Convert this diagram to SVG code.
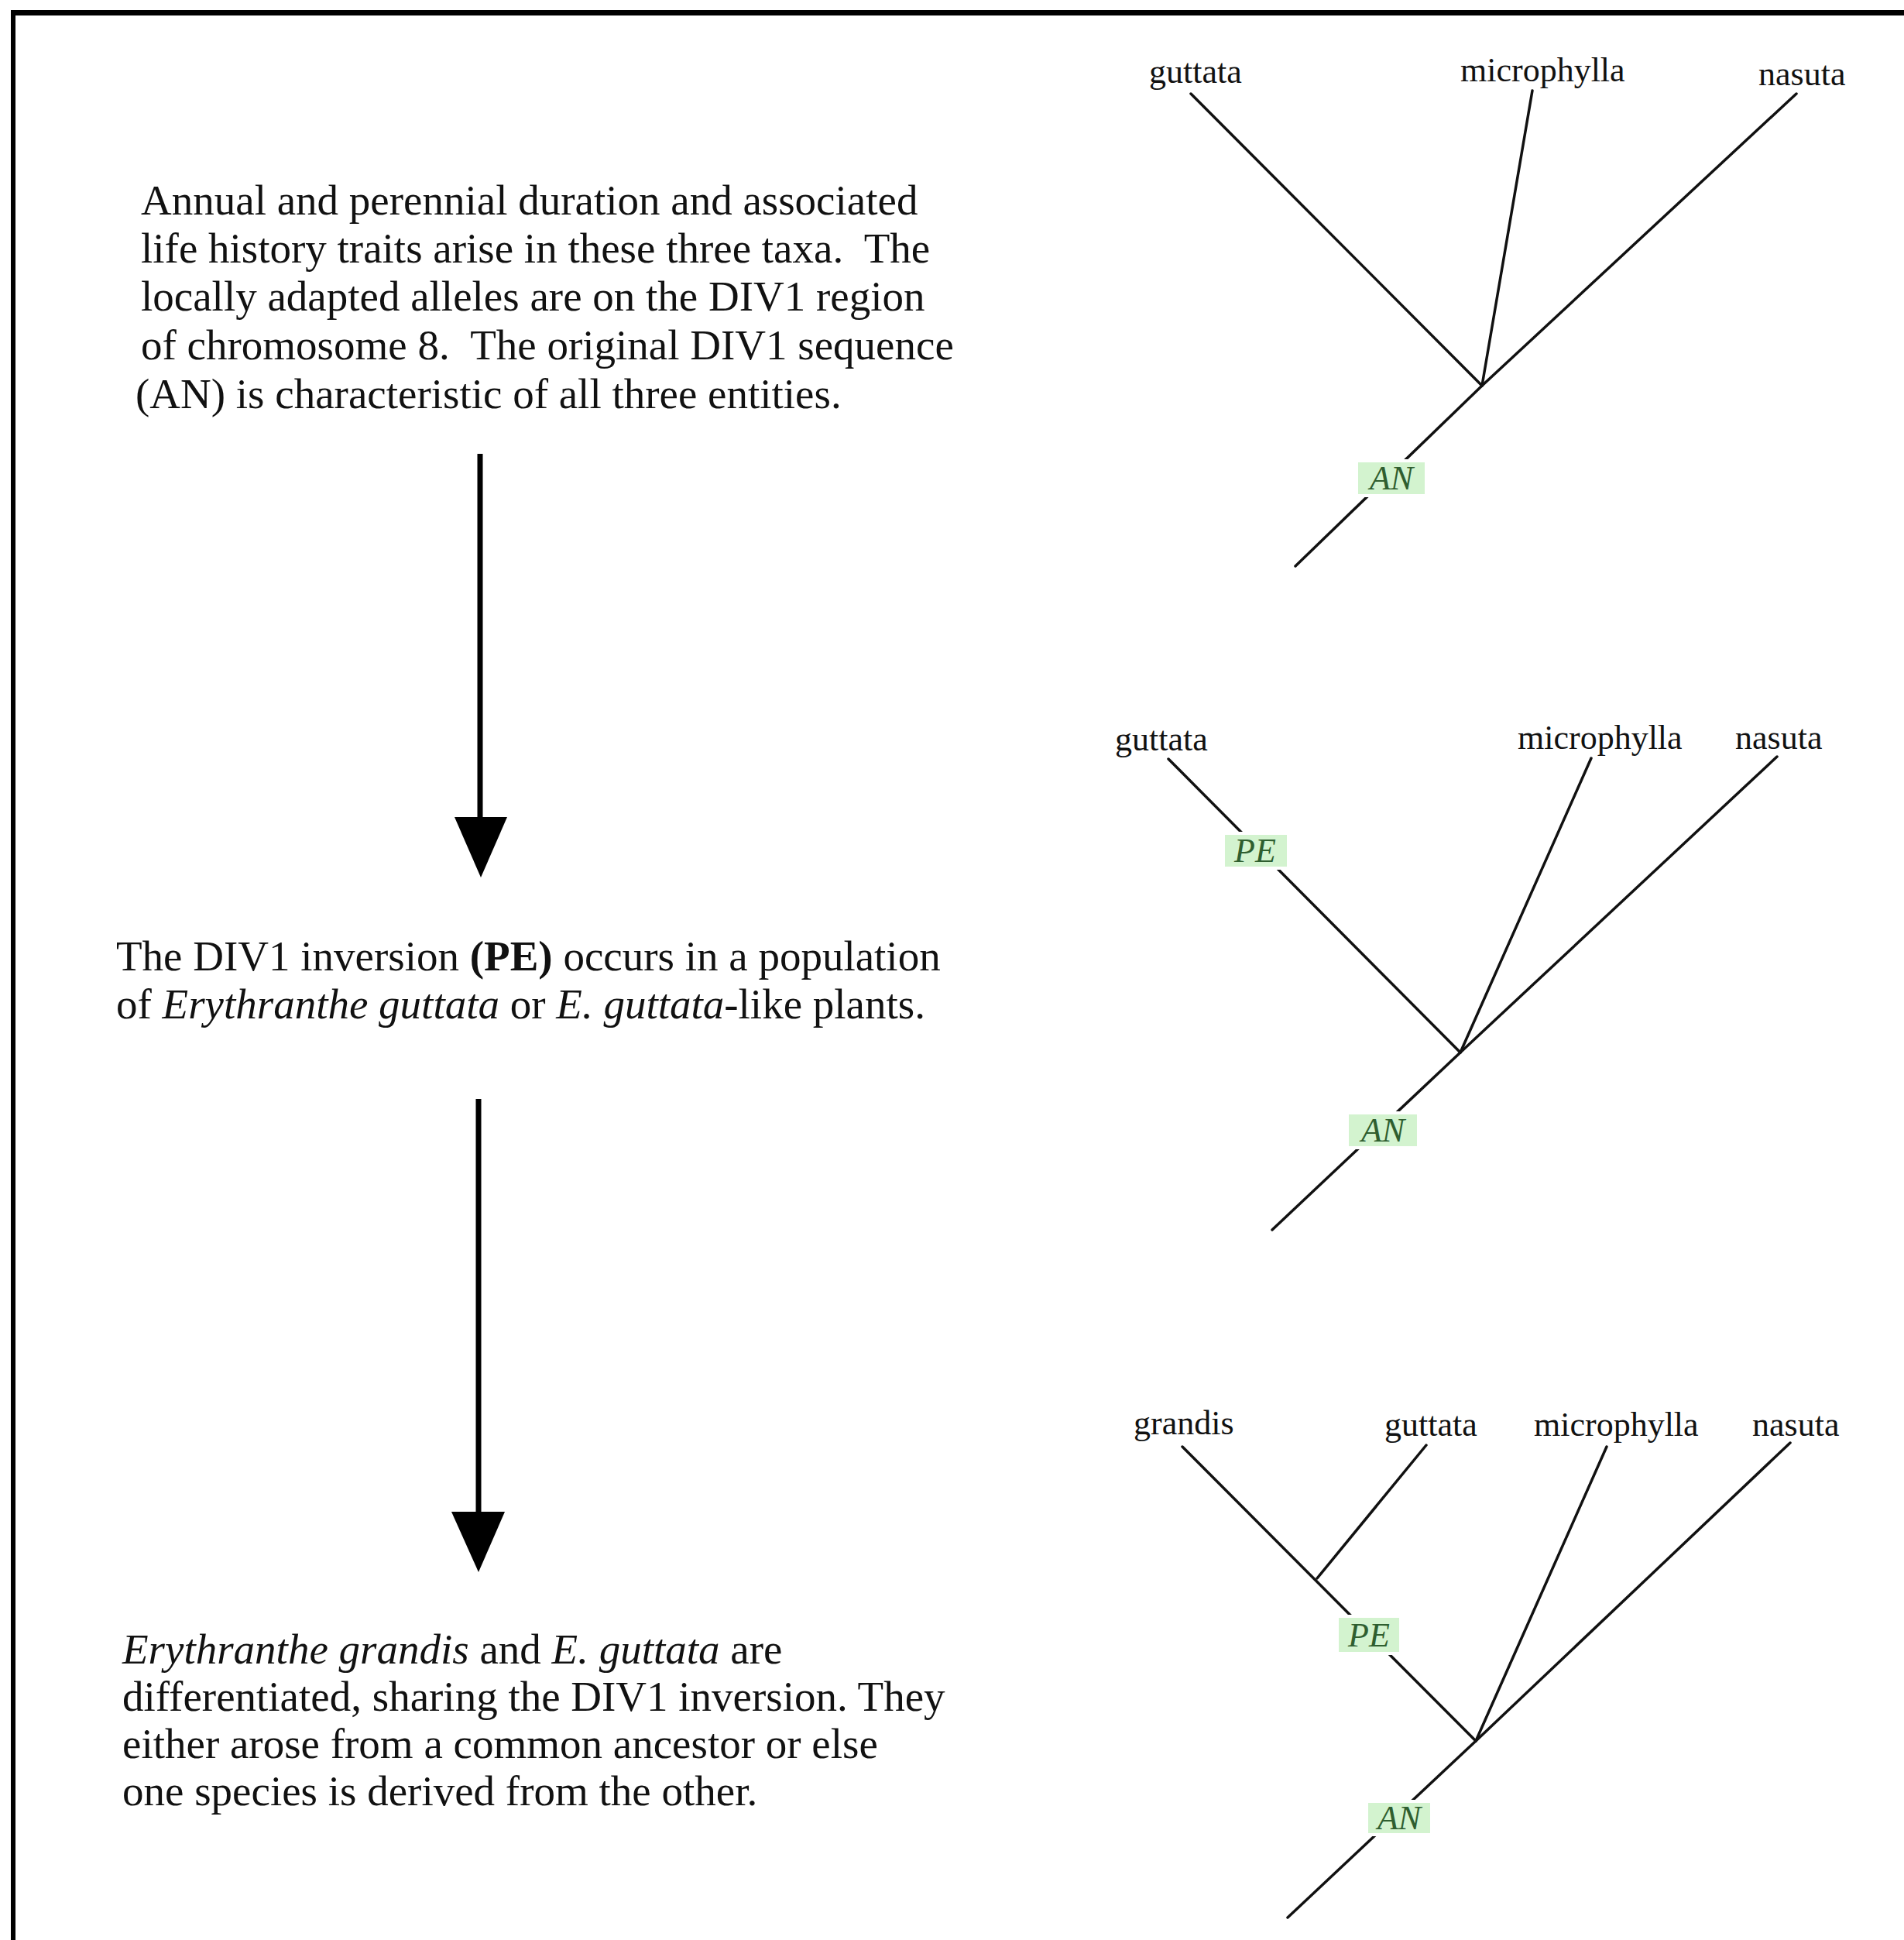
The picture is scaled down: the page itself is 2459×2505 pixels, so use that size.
<svg xmlns="http://www.w3.org/2000/svg" width="2459" height="2505" viewBox="0 0 2459 2505">
<style>
.body{font-family:"Liberation Serif","Times New Roman",serif;font-size:55px;fill:#111}
.lab{font-family:"Liberation Serif","Times New Roman",serif;font-size:44px;fill:#111}
.gl{font-family:"Liberation Serif","Times New Roman",serif;font-size:44px;font-style:italic;fill:#2f5e2f;text-anchor:middle}
.gbox{fill:#d3f3cf;stroke:#ffffff;stroke-width:4}
.br{stroke:#111;stroke-width:3.5;fill:none;stroke-linecap:round}
.arr{stroke:#000;stroke-width:7;fill:none}
.head{fill:#000}
</style>
<rect x="0" y="0" width="2459" height="2505" fill="#ffffff"/>
<g id="frame">
<line x1="14" y1="16.5" x2="2459" y2="16.5" stroke="#000" stroke-width="7"/>
<line x1="17" y1="13" x2="17" y2="2505" stroke="#000" stroke-width="6"/>
</g>
<g id="step1">
<text class="body" x="182" y="277">Annual and perennial duration and associated</text>
<text class="body" x="182" y="339">life history traits arise in these three taxa.&#160; The</text>
<text class="body" x="182" y="401">locally adapted alleles are on the DIV1 region</text>
<text class="body" x="182" y="464">of chromosome 8.&#160; The original DIV1 sequence</text>
<text class="body" x="175" y="527">(AN) is characteristic of all three entities.</text>
</g>
<g id="step2">
<text class="body" x="150" y="1253">The DIV1 inversion <tspan font-weight="bold">(PE)</tspan> occurs in a population</text>
<text class="body" x="150" y="1315">of <tspan font-style="italic">Erythranthe guttata</tspan> or <tspan font-style="italic">E. guttata</tspan>-like plants.</text>
</g>
<g id="step3">
<text class="body" x="158" y="2148"><tspan font-style="italic">Erythranthe grandis</tspan> and <tspan font-style="italic">E. guttata</tspan> are</text>
<text class="body" x="158" y="2209">differentiated, sharing the DIV1 inversion. They</text>
<text class="body" x="158" y="2270">either arose from a common ancestor or else</text>
<text class="body" x="158" y="2331">one species is derived from the other.</text>
</g>
<g id="connectors">
<line class="arr" x1="620" y1="586" x2="620" y2="1060"/>
<polygon class="head" points="587,1055 655,1055 621,1133"/>
<line class="arr" x1="618" y1="1419" x2="618" y2="1957"/>
<polygon class="head" points="583,1952 652,1952 618,2030"/>
</g>
<g id="tree1">
<line class="br" x1="1538" y1="121" x2="1914" y2="498"/>
<line class="br" x1="1979" y1="117" x2="1914" y2="498"/>
<line class="br" x1="2320" y1="121" x2="1914" y2="498"/>
<line class="br" x1="1914" y1="498" x2="1673" y2="731"/>
<text class="lab" x="1484" y="107">guttata</text>
<text class="lab" x="1886" y="105">microphylla</text>
<text class="lab" x="2271" y="110">nasuta</text>
<rect class="gbox" x="1752" y="595" width="90" height="45"/>
<text class="gl" x="1797" y="632">AN</text>
</g>
<g id="tree2">
<line class="br" x1="1509" y1="980" x2="1886" y2="1359"/>
<line class="br" x1="2055" y1="979" x2="1886" y2="1359"/>
<line class="br" x1="2295" y1="977" x2="1886" y2="1359"/>
<line class="br" x1="1886" y1="1359" x2="1643" y2="1588"/>
<text class="lab" x="1440" y="969">guttata</text>
<text class="lab" x="1960" y="967">microphylla</text>
<text class="lab" x="2241" y="967">nasuta</text>
<rect class="gbox" x="1580" y="1076" width="84" height="45"/>
<text class="gl" x="1621" y="1113">PE</text>
<rect class="gbox" x="1740" y="1437" width="92" height="45"/>
<text class="gl" x="1786" y="1474">AN</text>
</g>
<g id="tree3">
<line class="br" x1="1527" y1="1868" x2="1906" y2="2248"/>
<line class="br" x1="1842" y1="1866" x2="1701" y2="2038"/>
<line class="br" x1="2075" y1="1868" x2="1906" y2="2248"/>
<line class="br" x1="2312" y1="1863" x2="1906" y2="2248"/>
<line class="br" x1="1906" y1="2248" x2="1663" y2="2476"/>
<text class="lab" x="1464" y="1852">grandis</text>
<text class="lab" x="1788" y="1854">guttata</text>
<text class="lab" x="1981" y="1854">microphylla</text>
<text class="lab" x="2263" y="1854">nasuta</text>
<rect class="gbox" x="1727" y="2087" width="82" height="48"/>
<text class="gl" x="1768" y="2126">PE</text>
<rect class="gbox" x="1765" y="2326" width="84" height="43"/>
<text class="gl" x="1807" y="2362">AN</text>
</g>
</svg>
